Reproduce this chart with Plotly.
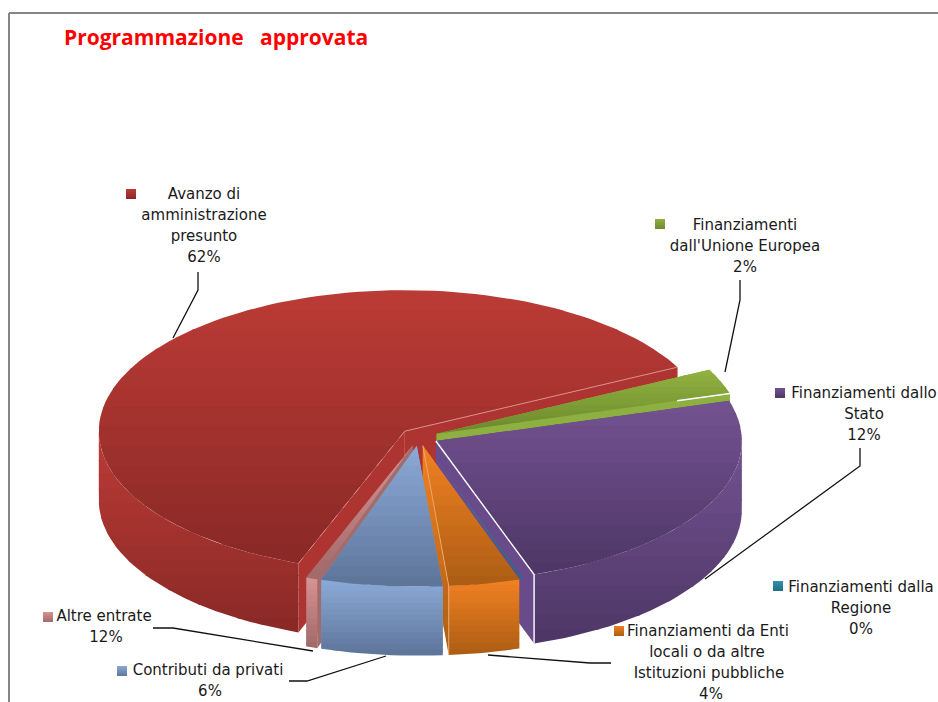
import math
import plotly.graph_objects as go

TITLE = "Programmazione   approvata"
categories = ["Finanziamenti dall'Unione Europea", "Finanziamenti dallo Stato", "Finanziamenti dalla Regione",
              "Finanziamenti da Enti locali o da altre Istituzioni pubbliche", "Contributi da privati",
              "Altre entrate", "Avanzo di amministrazione presunto"]
# share of the drawn slice
shares = [2.9, 24.4, 0.1, 3.75, 6.4, 0.6, 61.85]
# percentages printed on the labels
printed = ["2%", "12%", "0%", "4%", "6%", "12%", "62%"]
label_lines = [["Finanziamenti", "dall'Unione Europea"], ["Finanziamenti dallo", "Stato"],
               ["Finanziamenti dalla", "Regione"], ["Finanziamenti da Enti", "locali o da altre", "Istituzioni pubbliche"],
               ["Contributi da privati"], ["Altre entrate"], ["Avanzo di", "amministrazione", "presunto"]]
top_light = ["#8fb13f", "#72518f", "#2e93ad", "#ef8022", "#8aa8d6", "#d89191", "#ba3a35"]
top_dark = ["#6d8a2e", "#4e3767", "#1f6f85", "#ae5e14", "#5f769b", "#a36a6a", "#8a2926"]
side_flat = ["#8db040", "#694a8a", "#2e93ad", "#e07a1f", "#7f9bc6", "#a26c6c", "#ad3431"]

# geometry of the pie
CX, CY, RX, RY, DEPTH, EXPLODE, START = 419, 437, 306, 141, 69, 19, 27
BANDS = 14

fig = go.Figure()


def hexrgb(c):
    return tuple(int(c[i:i + 2], 16) for i in (1, 3, 5))


def mix(a, b, f):
    a, b = hexrgb(a), hexrgb(b)
    return "rgb(%d,%d,%d)" % tuple(round(a[i] + (b[i] - a[i]) * f) for i in range(3))


def clip(poly, y, keep_below):
    out = []
    n = len(poly)
    for i in range(n):
        p, q = poly[i], poly[(i + 1) % n]
        pin = p[1] >= y if keep_below else p[1] <= y
        qin = q[1] >= y if keep_below else q[1] <= y
        if pin:
            out.append(p)
        if pin != qin:
            f = (y - p[1]) / (q[1] - p[1])
            out.append((p[0] + (q[0] - p[0]) * f, y))
    return out


def face(poly, c0, c1):
    ys = [p[1] for p in poly]
    y0, y1 = min(ys), max(ys)
    n = max(1, min(BANDS, int((y1 - y0) / 6) + 1))
    for i in range(n):
        a = y0 + (y1 - y0) * i / n
        b = y0 + (y1 - y0) * (i + 1) / n + 1
        piece = clip(clip(poly, a, True), b, False)
        if len(piece) < 3:
            continue
        fig.add_trace(go.Scatter(x=[p[0] for p in piece] + [piece[0][0]], y=[p[1] for p in piece] + [piece[0][1]],
                                 mode="lines", fill="toself", fillcolor=mix(c0, c1, i / max(1, n - 1)),
                                 line=dict(width=0), hoverinfo="skip", showlegend=False))


def stroke(pts, color, width=1, dash="solid"):
    fig.add_trace(go.Scatter(x=[p[0] for p in pts], y=[p[1] for p in pts], mode="lines",
                             line=dict(color=color, width=width, dash=dash), hoverinfo="skip", showlegend=False))


# slice angles, clockwise from START
spans = []
t = START
for s in shares:
    spans.append((t, t - s * 3.6))
    t -= s * 3.6


def slice_geo(i):
    t0, t1 = spans[i]
    m = math.radians((t0 + t1) / 2)
    ax = CX + EXPLODE * math.cos(m)
    ay = CY - EXPLODE * RY / RX * math.sin(m)
    pt = lambda d: (ax + RX * math.cos(math.radians(d)), ay - RY * math.sin(math.radians(d)))
    return ax, ay, t0, t1, pt


def arc(pt, a, b):
    steps = max(2, int(abs(a - b) / 2) + 1)
    return [pt(a + (b - a) * k / steps) for k in range(steps + 1)]


for i in [6, 0, 1, 2, 5, 3, 4]:
    ax, ay, t0, t1, pt = slice_geo(i)
    apex = (ax, ay)
    if shares[i] >= 0.5:
        # cut faces
        for d in (t0, t1):
            e = pt(d)
            quad = [apex, e, (e[0], e[1] + DEPTH), (ax, ay + DEPTH)]
            if i == 3:
                face(quad, top_light[i], top_dark[i])
            else:
                face(quad, side_flat[i], side_flat[i])
        # outer wall, only where it faces the viewer
        lo = max(min(t0, t1), -180)
        hi = min(max(t0, t1), 0)
        if lo < hi:
            upper = arc(pt, lo, hi)
            lower = [(x, y + DEPTH) for x, y in reversed(upper)]
            face(upper + lower, top_light[i], top_dark[i])
    # top
    face([apex] + arc(pt, t0, t1), top_light[i], top_dark[i])
    e0, e1 = pt(t0), pt(t1)
    if i == 6:  # red
        stroke([apex, e0], "#d98a86", 1, "dash")
        stroke([apex, e1, (e1[0], e1[1] + DEPTH)], "#d98a86", 1)
    if i == 1:  # purple
        stroke([apex, e1, (e1[0], e1[1] + DEPTH)], "#ffffff", 1.4)
    if i == 0:  # green
        stroke([(ax + (e1[0] - ax) * 0.82, ay + (e1[1] - ay) * 0.82), e1], "#ffffff", 1.4)
    if i == 3:  # orange
        stroke([apex, e1, (e1[0], e1[1] + DEPTH)], "#f2b27a", 0.8)

# leader lines
leaders_x = [[725, 740, 740], [705, 860, 860], [], [488, 590, 611], [386, 307, 289], [313, 173, 153], [173, 198, 198]]
leaders_y = [[372, 300, 280], [579, 466, 448], [], [655, 663, 663], [656, 681, 681], [651, 628, 628], [338, 290, 272]]
for lx, ly in zip(leaders_x, leaders_y):
    if lx:
        fig.add_trace(go.Scatter(x=lx, y=ly, mode="lines", line=dict(color="#111111", width=1.3),
                                 hoverinfo="skip", showlegend=False))

# labels: centre x, first line y
label_x = [[745, 745, 745], [864, 864, 864], [861, 861, 861], [708, 707, 709, 711], [208, 210], [104, 106], [204, 204, 204, 204]]
label_y = [226, 394, 588, 632, 671, 617, 195]
LINE = 21.2
marker_x = [660, 780, 778, 619, 122, 48, 131]
marker_y = [224, 393, 586, 631, 671, 617, 194]
for i in range(7):
    lines = label_lines[i] + [printed[i]]
    fig.add_trace(go.Scatter(x=label_x[i], y=[label_y[i] + LINE * k for k in range(len(lines))],
                             mode="text", text=lines, textposition="middle center",
                             textfont=dict(family="DejaVu Sans", size=15, color="#1a1a1a"),
                             hoverinfo="skip", showlegend=False))
    fig.add_trace(go.Scatter(x=[marker_x[i]], y=[marker_y[i]], mode="markers",
                             marker=dict(symbol="square", size=10, color=top_light[i], line=dict(width=0),
                                         gradient=dict(type="vertical", color=top_dark[i])),
                             hoverinfo="skip", showlegend=False))

fig.add_annotation(x=62, y=37, xref="x", yref="y", xanchor="left", yanchor="middle", showarrow=False,
                   text="<b>%s</b>" % TITLE.replace(" ", "&nbsp;"),
                   font=dict(family="Open Sans", size=21, color="#ff0000"))

# frame
fig.add_shape(type="line", x0=9, x1=938, y0=13, y1=13, xref="x", yref="y", line=dict(color="#868686", width=2))
fig.add_shape(type="line", x0=9, x1=9, y0=13, y1=702, xref="x", yref="y", line=dict(color="#868686", width=2))

fig.update_layout(width=938, height=702, margin=dict(l=0, r=0, t=0, b=0), paper_bgcolor="white", plot_bgcolor="white",
                  showlegend=False,
                  xaxis=dict(range=[0, 938], visible=False, fixedrange=True),
                  yaxis=dict(range=[702, 0], visible=False, fixedrange=True))
fig.write_html("out.html", config={"displayModeBar": False, "responsive": False},
               post_script="document.body.style.margin='0';document.body.style.overflow='hidden';")
